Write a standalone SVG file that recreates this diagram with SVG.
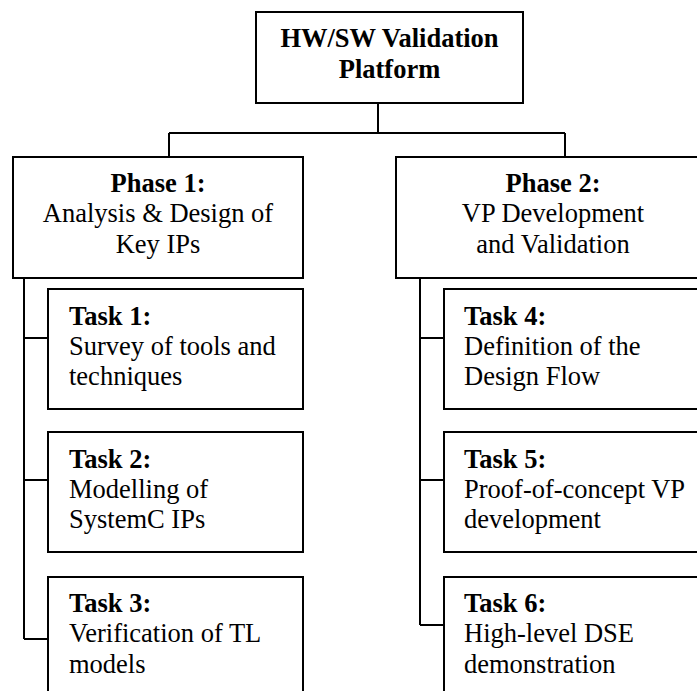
<svg xmlns="http://www.w3.org/2000/svg" width="697" height="691" viewBox="0 0 697 691">
<style>
.box{fill:#fff;stroke:#000;stroke-width:2}
.ln{fill:none;stroke:#000;stroke-width:2}
text{font-family:'Liberation Serif','Times New Roman',Times,'DejaVu Serif',serif;font-size:26.5px;fill:#000}
.b{font-weight:bold}
.c{text-anchor:middle}
</style>
<rect width="697" height="691" fill="#fff"/>
<g id="connectors">
<path class="ln" d="M378 103V133M169 133H565M169 133V157M565 133V157"/>
<path class="ln" d="M24 278V639M24 338H48M24 480H48M24 639H48"/>
<path class="ln" d="M420 278V625M420 338H444M420 480H444M420 625H444"/>
</g>
<g id="root">
<rect class="box" x="256" y="12" width="267" height="91"/>
<text class="b c" x="389.5" y="47">HW/SW Validation</text>
<text class="b c" x="389.5" y="78">Platform</text>
</g>
<g id="phase1">
<rect class="box" x="13" y="157" width="290" height="121"/>
<text class="b c" x="158" y="192">Phase 1:</text>
<text class="c" x="158" y="222">Analysis &amp; Design of</text>
<text class="c" x="158" y="253">Key IPs</text>
</g>
<g id="phase2">
<rect class="box" x="396" y="157" width="314" height="121"/>
<text class="b c" x="553" y="192">Phase 2:</text>
<text class="c" x="553" y="222">VP Development</text>
<text class="c" x="553" y="253">and Validation</text>
</g>
<g id="task1">
<rect class="box" x="48" y="289" width="255" height="120"/>
<text class="b" x="69" y="325">Task 1:</text>
<text x="69" y="355">Survey of tools and</text>
<text x="69" y="385">techniques</text>
</g>
<g id="task2">
<rect class="box" x="48" y="432" width="255" height="120"/>
<text class="b" x="69" y="468">Task 2:</text>
<text x="69" y="498">Modelling of</text>
<text x="69" y="528">SystemC IPs</text>
</g>
<g id="task3">
<rect class="box" x="48" y="577" width="255" height="130"/>
<text class="b" x="69" y="612">Task 3:</text>
<text x="69" y="642">Verification of TL</text>
<text x="69" y="673">models</text>
</g>
<g id="task4">
<rect class="box" x="444" y="289" width="270" height="120"/>
<text class="b" x="464" y="325">Task 4:</text>
<text x="464" y="355">Definition of the</text>
<text x="464" y="385">Design Flow</text>
</g>
<g id="task5">
<rect class="box" x="444" y="432" width="270" height="120"/>
<text class="b" x="464" y="468">Task 5:</text>
<text x="464" y="498">Proof-of-concept VP</text>
<text x="464" y="528">development</text>
</g>
<g id="task6">
<rect class="box" x="444" y="577" width="270" height="130"/>
<text class="b" x="464" y="612">Task 6:</text>
<text x="464" y="642">High-level DSE</text>
<text x="464" y="673">demonstration</text>
</g>
</svg>
